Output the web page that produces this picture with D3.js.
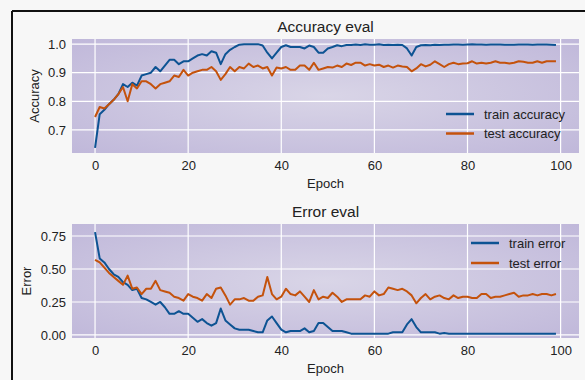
<!DOCTYPE html>
<html>
<head>
<meta charset="utf-8">
<script src="https://cdn.jsdelivr.net/npm/d3@7"></script>
<style>
  html, body { margin: 0; padding: 0; background: #f7f7f7; }
  svg { display: block; }
  text { font-family: "Liberation Sans Narrow", "Liberation Sans", Arial, sans-serif; fill: #222; }
</style>
</head>
<body>
<svg id="chart" width="585" height="380"></svg>
<script>
// epochs 0..99
const epochs = d3.range(0, 100);

const trainAcc = [
  0.637, 0.755, 0.77, 0.79, 0.805, 0.825, 0.86, 0.85, 0.865, 0.855,
  0.89, 0.895, 0.90, 0.92, 0.905, 0.925, 0.945, 0.945, 0.93, 0.94,
  0.94, 0.95, 0.96, 0.965, 0.96, 0.975, 0.97, 0.93, 0.965, 0.98,
  0.99, 0.998, 1.0, 1.0, 1.0, 1.0, 0.995, 0.97, 0.95, 0.97,
  0.99, 0.996, 0.99, 0.99, 0.99, 0.985, 0.995, 0.99, 0.97, 0.97,
  0.985, 0.99, 0.996, 0.993, 0.997, 0.997, 0.999, 0.997, 1.0, 0.998,
  0.998, 1.0, 0.997, 0.998, 0.997, 0.998, 0.997, 0.985, 0.96, 0.99,
  0.996, 0.997, 0.996, 0.998, 0.997, 0.998, 0.998, 0.999, 0.999, 0.998,
  0.999, 1.0, 0.999, 0.999, 0.998, 0.999, 0.999, 0.999, 0.998, 0.998,
  0.998, 0.999, 0.999, 0.999, 0.998, 0.999, 0.999, 0.999, 0.998, 0.997
];
const testAcc = [
  0.745, 0.78, 0.775, 0.79, 0.805, 0.825, 0.85, 0.80, 0.86, 0.845,
  0.87, 0.87, 0.86, 0.845, 0.86, 0.865, 0.87, 0.89, 0.885, 0.91,
  0.89, 0.90, 0.905, 0.91, 0.91, 0.92, 0.905, 0.875, 0.895, 0.92,
  0.905, 0.92, 0.915, 0.932, 0.92, 0.925, 0.915, 0.92, 0.89, 0.918,
  0.915, 0.92, 0.91, 0.91, 0.925, 0.925, 0.91, 0.935, 0.91, 0.915,
  0.92, 0.918, 0.925, 0.92, 0.932, 0.927, 0.935, 0.935, 0.925, 0.93,
  0.925, 0.928, 0.92, 0.925, 0.918, 0.925, 0.922, 0.92, 0.905, 0.915,
  0.93, 0.922, 0.928, 0.94, 0.93, 0.92, 0.93, 0.935, 0.93, 0.932,
  0.933, 0.94, 0.932, 0.935, 0.932, 0.935, 0.94, 0.935, 0.935, 0.932,
  0.935, 0.94, 0.938, 0.935, 0.935, 0.94, 0.935, 0.94, 0.94, 0.94
];
const trainErr = [
  0.78, 0.58, 0.55, 0.50, 0.46, 0.44, 0.40, 0.38, 0.34, 0.35,
  0.28, 0.27, 0.25, 0.23, 0.25, 0.21, 0.16, 0.16, 0.18, 0.16,
  0.16, 0.13, 0.10, 0.12, 0.09, 0.07, 0.09, 0.20, 0.11, 0.08,
  0.05, 0.04, 0.04, 0.04, 0.03, 0.02, 0.02, 0.11, 0.14, 0.09,
  0.04, 0.02, 0.03, 0.03, 0.03, 0.05, 0.02, 0.03, 0.09, 0.09,
  0.06, 0.03, 0.03, 0.03, 0.02, 0.01, 0.01, 0.01, 0.01, 0.01,
  0.01, 0.01, 0.01, 0.01, 0.02, 0.02, 0.02, 0.08, 0.12, 0.06,
  0.02, 0.02, 0.02, 0.02, 0.01, 0.015, 0.01, 0.01, 0.01, 0.01,
  0.01, 0.01, 0.01, 0.01, 0.01, 0.01, 0.01, 0.01, 0.01, 0.01,
  0.01, 0.01, 0.01, 0.01, 0.01, 0.01, 0.01, 0.01, 0.01, 0.01
];
const testErr = [
  0.57, 0.55, 0.51, 0.47, 0.44, 0.41, 0.38, 0.45, 0.35, 0.36,
  0.31, 0.35, 0.35, 0.41, 0.34, 0.33, 0.32, 0.29, 0.28, 0.26,
  0.31, 0.29, 0.28, 0.26, 0.31, 0.28, 0.35, 0.36, 0.30, 0.23,
  0.27, 0.27, 0.28, 0.26, 0.26, 0.29, 0.30, 0.44, 0.31, 0.27,
  0.29, 0.35, 0.31, 0.30, 0.33, 0.29, 0.25, 0.34, 0.27, 0.29,
  0.28, 0.32, 0.29, 0.25, 0.27, 0.27, 0.27, 0.27, 0.30, 0.29,
  0.33, 0.30, 0.31, 0.36, 0.35, 0.34, 0.35, 0.33, 0.30, 0.24,
  0.28, 0.31, 0.27, 0.29, 0.30, 0.28, 0.27, 0.30, 0.28, 0.29,
  0.29, 0.28, 0.28, 0.31, 0.31, 0.28, 0.29, 0.29, 0.30, 0.31,
  0.32, 0.29, 0.30, 0.30, 0.31, 0.30, 0.31, 0.31, 0.30, 0.31
];

const xTicks = [0, 20, 40, 60, 80, 100];
const accTicks = [0.7, 0.8, 0.9, 1.0];
const errTicks = [0.00, 0.25, 0.50, 0.75];

const blue = "#0d5393";
const orange = "#c4520c";

svg = d3.select("#chart");

// frame lines from the screenshot
svg.append("line").attr("x1", 12).attr("x2", 12).attr("y1", 11).attr("y2", 380)
  .attr("stroke", "#111").attr("stroke-width", 2);
svg.append("line").attr("x1", 12).attr("x2", 585).attr("y1", 11).attr("y2", 11)
  .attr("stroke", "#111").attr("stroke-width", 2);

// plot background gradient (soft vignette)
defs = svg.append("defs");
grad = defs.append("radialGradient").attr("id", "bg")
  .attr("cx", "50%").attr("cy", "50%").attr("r", "70%");
grad.append("stop").attr("offset", "0%").attr("stop-color", "#d9d5e7");
grad.append("stop").attr("offset", "100%").attr("stop-color", "#c0b8da");

function drawPanel(opts) {
  const x = d3.scaleLinear().domain([-4.95, 103.95]).range([opts.left, opts.right]);
  const y = d3.scaleLinear().domain(opts.yDomain).range([opts.bottom, opts.top]);
  const g = svg.append("g");

  g.append("rect")
    .attr("x", opts.left).attr("y", opts.top)
    .attr("width", opts.right - opts.left).attr("height", opts.bottom - opts.top)
    .attr("fill", "url(#bg)");

  // gridlines
  g.selectAll("line.vx").data(xTicks).join("line")
    .attr("x1", d => x(d)).attr("x2", d => x(d))
    .attr("y1", opts.top).attr("y2", opts.bottom)
    .attr("stroke", "#fff").attr("stroke-width", 1.2);
  g.selectAll("line.hy").data(opts.yTicks).join("line")
    .attr("x1", opts.left).attr("x2", opts.right)
    .attr("y1", d => y(d)).attr("y2", d => y(d))
    .attr("stroke", "#fff").attr("stroke-width", 1.2);

  // axes, text only
  const xAxis = g.append("g").attr("transform", `translate(0,${opts.bottom})`)
    .call(d3.axisBottom(x).tickValues(xTicks).tickSize(0).tickPadding(8).tickFormat(d3.format("d")));
  const yAxis = g.append("g").attr("transform", `translate(${opts.left},0)`)
    .call(d3.axisLeft(y).tickValues(opts.yTicks).tickSize(0).tickPadding(6).tickFormat(opts.fmt));
  [xAxis, yAxis].forEach(a => {
    a.select(".domain").remove();
    a.selectAll("text").attr("font-size", 13).attr("fill", "#222")
      .attr("font-family", "'Liberation Sans Narrow', 'Liberation Sans', Arial, sans-serif");
  });

  const line = d3.line().x((d, i) => x(epochs[i])).y(d => y(d));
  opts.series.forEach(s => {
    g.append("path").datum(s.values)
      .attr("d", line)
      .attr("fill", "none")
      .attr("stroke", s.color)
      .attr("stroke-width", 2)
      .attr("stroke-linejoin", "round");
  });

  // title and labels
  g.append("text").attr("x", (opts.left + opts.right) / 2).attr("y", opts.top - 7)
    .attr("text-anchor", "middle").attr("font-size", 15.5).text(opts.title);
  g.append("text").attr("x", (opts.left + opts.right) / 2).attr("y", opts.bottom + 35)
    .attr("text-anchor", "middle").attr("font-size", 13).text("Epoch");
  g.append("text")
    .attr("transform", `translate(${opts.yLabelX},${(opts.top + opts.bottom) / 2}) rotate(-90)`)
    .attr("text-anchor", "middle").attr("font-size", 13).text(opts.yLabel);

  // legend
  opts.series.forEach((s, i) => {
    const ly = opts.legendY + i * opts.legendGap;
    g.append("line")
      .attr("x1", opts.legendX).attr("x2", opts.legendX + 28)
      .attr("y1", ly).attr("y2", ly)
      .attr("stroke", s.color).attr("stroke-width", 2.5);
    g.append("text").attr("x", opts.legendX + 38).attr("y", ly + 4.5)
      .attr("font-size", 13).text(s.name);
  });
}

drawPanel({
  left: 72, right: 579, top: 39, bottom: 153,
  yDomain: [0.619, 1.018], yTicks: accTicks, fmt: d3.format(".1f"),
  title: "Accuracy eval", yLabel: "Accuracy", yLabelX: 39,
  legendX: 446, legendY: 114, legendGap: 19.5,
  series: [
    {name: "train accuracy", values: trainAcc, color: blue},
    {name: "test accuracy", values: testAcc, color: orange}
  ]
});

drawPanel({
  left: 72, right: 579, top: 224, bottom: 338,
  yDomain: [-0.023, 0.841], yTicks: errTicks, fmt: d3.format(".2f"),
  title: "Error eval", yLabel: "Error", yLabelX: 31,
  legendX: 471, legendY: 243, legendGap: 20,
  series: [
    {name: "train error", values: trainErr, color: blue},
    {name: "test error", values: testErr, color: orange}
  ]
});
</script>
</body>
</html>
